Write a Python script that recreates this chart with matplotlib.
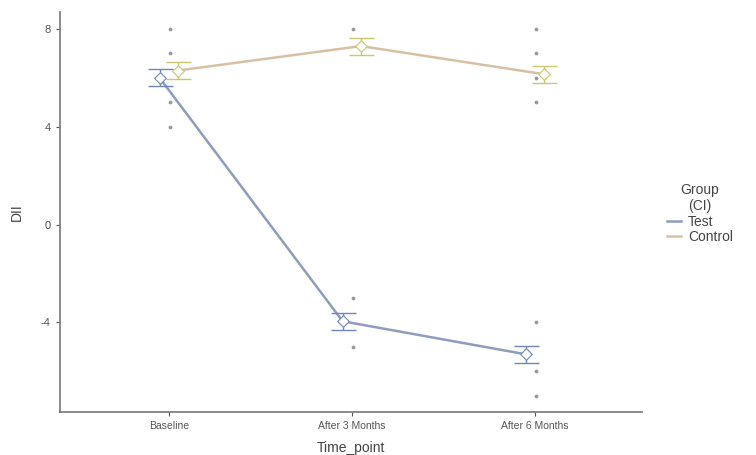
import numpy as np
import matplotlib.pyplot as plt

plt.rcParams['font.family'] = ['Liberation Sans', 'DejaVu Sans']

timepoints = ["Baseline", "After 3 Months", "After 6 Months"]
groups = ["Test", "Control"]

test_mean = [6.0, -3.95, -5.3]
test_ci = [0.35, 0.35, 0.35]
control_mean = [6.3, 7.3, 6.15]
control_ci = [0.35, 0.35, 0.35]

# raw observations shown as small grey dots
raw_x = [0, 0, 0, 0, 1, 1, 1, 2, 2, 2, 2, 2, 2, 2]
raw_y = [8, 7, 5, 4, 8, -3, -5, 8, 7, 6, 5, -4, -6, -7]

line_colors = {"Test": "#8f9cc0", "Control": "#d9bfa3"}
bar_colors = {"Test": "#6f86b8", "Control": "#c9c86e"}
dodge = {"Test": -0.05, "Control": 0.05}

fig = plt.figure(figsize=(7.56, 4.55), dpi=100)
ax = fig.add_axes([0.079, 0.0945, 0.77, 0.8795])

x = np.arange(len(timepoints))
ax.scatter(np.array(raw_x) + 0.005, raw_y, s=3, color="#9a9a9a", zorder=2)

for g, m, ci in [("Test", test_mean, test_ci), ("Control", control_mean, control_ci)]:
    xs = x + dodge[g]
    ax.plot(xs, m, color=line_colors[g], lw=1.8, label=g, zorder=3)
    ax.errorbar(xs, m, yerr=ci, fmt="none", ecolor=bar_colors[g], elinewidth=1,
                capsize=9, capthick=1, zorder=4)
    ax.scatter(xs, m, marker="D", s=35, facecolor="white",
               edgecolor=bar_colors[g], linewidth=0.8, zorder=5)

ax.set_xlim(-0.596, 2.585)
ax.set_ylim(-7.66, 8.7)
ax.set_xticks(x)
ax.set_xticklabels(timepoints, fontsize=7.5, color="#555555")
ax.set_yticks([-4, 0, 4, 8])
ax.set_yticklabels(["-4", "0", "4", "8"], fontsize=8, color="#555555")
ax.tick_params(length=3, color="#555555")
for s in ["top", "right"]:
    ax.spines[s].set_visible(False)
for s in ["left", "bottom"]:
    ax.spines[s].set_color("#777777")
    ax.spines[s].set_linewidth(1.2)

ax.set_xlabel("Time_point", fontsize=10, color="#444444", labelpad=7)
ax.set_ylabel("DII", fontsize=10, color="#444444", labelpad=12)

leg = fig.legend(loc="upper left", bbox_to_anchor=(0.875, 0.61), frameon=False,
                 title="Group\n(CI)", fontsize=10, title_fontsize=10,
                 handlelength=1.0, handletextpad=0.5, labelspacing=0.1,
                 borderaxespad=0)
for t in leg.get_texts():
    t.set_color("#444444")
leg.get_title().set_color("#444444")
leg.get_title().set_multialignment("center")

fig.savefig("out.png", dpi=100)
